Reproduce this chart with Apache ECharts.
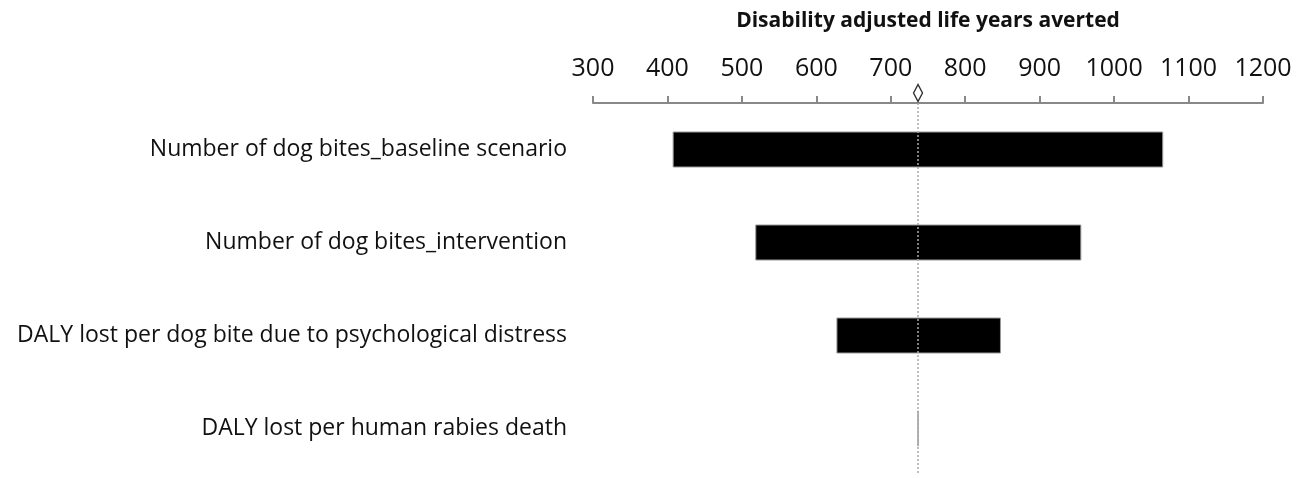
<!DOCTYPE html>
<html><head><meta charset="utf-8">
<script src="https://cdn.jsdelivr.net/npm/echarts@6/dist/echarts.min.js"></script>
<style>html,body{margin:0;padding:0;background:#fff}#c{width:1302px;height:478px}</style>
</head><body><div id="c"></div>
<script>
const categories = [
  'Number of dog bites_baseline scenario',
  'Number of dog bites_intervention',
  'DALY lost per dog bite due to psychological distress',
  'DALY lost per human rabies death'
];
const lowValues = [407, 518, 627, 736.3];
const highValues = [1066, 956, 848, 737.0];
const baseValue = 736.6;
const axisTicks = [300, 1200, 100];

const chart = echarts.init(document.getElementById('c'));
const font = "'Open Sans', 'Liberation Sans', sans-serif";
chart.setOption({
  animation: false,
  grid: { left: 593, right: 39, top: 103, height: 372, containLabel: false },
  xAxis: [{
    type: 'value', position: 'top', min: axisTicks[0], max: axisTicks[1], interval: axisTicks[2],
    name: 'Disability adjusted life years averted', nameLocation: 'middle', nameGap: 71,
    nameTextStyle: { fontFamily: font, fontSize: 21, fontWeight: 'bold', color: '#111' },
    axisLine: { show: true, onZero: false, lineStyle: { color: '#888', width: 2 } },
    axisTick: { show: true, length: 7, lineStyle: { color: '#888', width: 2 } },
    axisLabel: { fontFamily: font, fontSize: 25, color: '#111', margin: 22, formatter: v => String(v) },
    splitLine: { show: false }
  }],
  yAxis: [{
    type: 'category', data: categories, inverse: true,
    axisLine: { show: false }, axisTick: { show: false },
    axisLabel: { fontFamily: font, fontSize: 23, color: '#111', margin: 26 }
  }, {
    type: 'value', min: 0, max: 1, show: false
  }],
  series: [{
    type: 'bar', stack: 'r', yAxisIndex: 0, data: lowValues,
    itemStyle: { color: 'transparent' }, barWidth: 36, silent: true
  }, {
    type: 'bar', stack: 'r', yAxisIndex: 0,
    data: highValues.map((h, i) => +(h - lowValues[i]).toFixed(2)),
    itemStyle: { color: '#000', borderColor: '#999', borderWidth: 1 }, barWidth: 36,
    markLine: {
      silent: true, symbol: ['none', 'none'], label: { show: false },
      lineStyle: { color: '#aaa', type: [2, 2], width: 1.5 },
      data: [{ xAxis: baseValue }]
    }
  }, {
    type: 'scatter', yAxisIndex: 1, clip: false, data: [[baseValue, 1.027]],
    symbol: 'diamond', symbolSize: [9, 17],
    itemStyle: { color: '#fff', borderColor: '#000', borderWidth: 1.5 }
  }]
});
</script></body></html>
